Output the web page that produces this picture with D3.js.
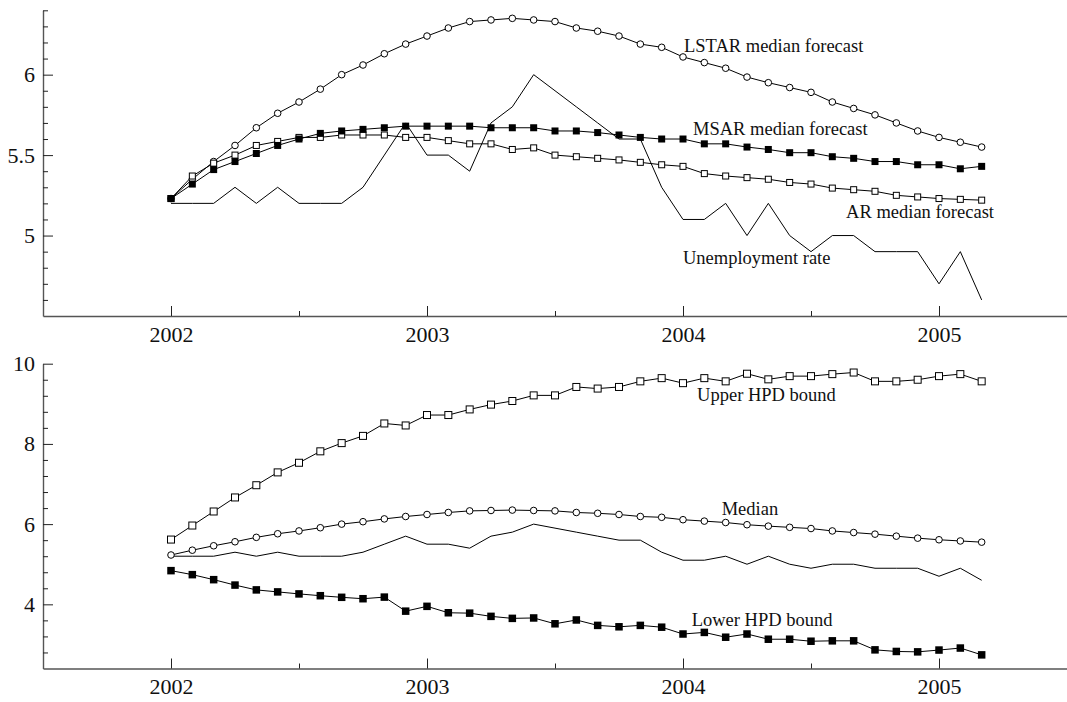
<!DOCTYPE html>
<html>
<head>
<meta charset="utf-8">
<script src="https://cdn.jsdelivr.net/npm/d3@7"></script>
<style>
  html, body { margin: 0; padding: 0; background: #fff; }
  svg { display: block; font-family: "Liberation Serif", "Times New Roman", serif; }
</style>
</head>
<body>
<svg id="chart" width="1067" height="702"></svg>
<script>
// Monthly observations, January 2002 to March 2005
const months = [
  "2002-01","2002-02","2002-03","2002-04","2002-05","2002-06","2002-07","2002-08","2002-09","2002-10","2002-11","2002-12",
  "2003-01","2003-02","2003-03","2003-04","2003-05","2003-06","2003-07","2003-08","2003-09","2003-10","2003-11","2003-12",
  "2004-01","2004-02","2004-03","2004-04","2004-05","2004-06","2004-07","2004-08","2004-09","2004-10","2004-11","2004-12",
  "2005-01","2005-02","2005-03"
];

const unemployment = [5.2,5.2,5.2,5.3,5.2,5.3,5.2,5.2,5.2,5.3,5.5,5.7,
  5.5,5.5,5.4,5.7,5.8,6.0,5.9,5.8,5.7,5.6,5.6,5.3,
  5.1,5.1,5.2,5.0,5.2,5.0,4.9,5.0,5.0,4.9,4.9,4.9,
  4.7,4.9,4.6];

const lstarMedian = [5.23,5.35,5.46,5.56,5.67,5.76,5.83,5.91,6.00,6.06,6.13,6.19,
  6.24,6.29,6.33,6.34,6.35,6.34,6.33,6.29,6.27,6.24,6.19,6.17,
  6.11,6.075,6.04,5.985,5.95,5.92,5.89,5.83,5.79,5.75,5.70,5.65,
  5.61,5.58,5.55];

const msarMedian = [5.23,5.32,5.41,5.46,5.51,5.56,5.60,5.635,5.65,5.66,5.67,5.68,
  5.68,5.68,5.68,5.67,5.67,5.67,5.65,5.65,5.64,5.625,5.61,5.60,
  5.60,5.57,5.57,5.55,5.535,5.515,5.515,5.49,5.48,5.46,5.46,5.44,
  5.44,5.415,5.43];

const arMedian = [5.23,5.37,5.45,5.50,5.56,5.585,5.61,5.61,5.625,5.625,5.625,5.61,
  5.61,5.59,5.57,5.57,5.535,5.545,5.50,5.49,5.48,5.47,5.455,5.44,
  5.43,5.385,5.37,5.36,5.35,5.33,5.32,5.295,5.285,5.275,5.25,5.24,
  5.23,5.225,5.22];

const upperHPD = [5.615,5.965,6.315,6.665,6.97,7.29,7.53,7.815,8.02,8.2,8.51,8.46,
  8.72,8.72,8.86,8.98,9.07,9.21,9.21,9.42,9.38,9.42,9.56,9.64,
  9.515,9.64,9.56,9.75,9.61,9.69,9.69,9.74,9.78,9.56,9.56,9.6,
  9.69,9.74,9.56];

const lowerHPD = [4.84,4.74,4.615,4.48,4.36,4.31,4.26,4.215,4.175,4.14,4.18,3.83,
  3.95,3.79,3.78,3.70,3.65,3.66,3.515,3.61,3.475,3.44,3.475,3.43,
  3.26,3.30,3.18,3.26,3.13,3.13,3.08,3.09,3.09,2.865,2.825,2.815,
  2.86,2.91,2.74];

const xTickYears = [2002, 2003, 2004, 2005];
const xMinorTicks = [2002.5, 2003.5, 2004.5];
const topYTicks = [5, 5.5, 6];
const topYMinor = [4.6,4.7,4.8,4.9,5.1,5.2,5.3,5.4,5.6,5.7,5.8,5.9,6.1,6.2,6.3,6.4];
const bottomYTicks = [4, 6, 8, 10];
const bottomYMinor = [2.8,3.2,3.6,4.4,4.8,5.2,5.6,6.4,6.8,7.2,7.6,8.4,8.8,9.2,9.6];

// decimal-year position of each month
const t = months.map(m => {
  const [yy, mm] = m.split("-").map(Number);
  return yy + (mm - 1) / 12;
});

const svg = d3.select("#chart");
const x = d3.scaleLinear().domain([2001.5, 2005.5]).range([43, 1067]);

function drawPanel(cfg) {
  const y = d3.scaleLinear().domain(cfg.domain).range([cfg.bottom, cfg.top]);
  const g = svg.append("g");

  // x axis: major ticks with labels, minor ticks without
  g.append("g").attr("transform", `translate(0,${cfg.bottom})`)
    .call(d3.axisBottom(x).tickValues(xTickYears).tickFormat(d3.format("d"))
      .tickSize(-10).tickSizeOuter(0).tickPadding(10));
  g.append("g").attr("transform", `translate(0,${cfg.bottom})`)
    .call(d3.axisBottom(x).tickValues(xMinorTicks).tickFormat("")
      .tickSize(-5).tickSizeOuter(0))
    .call(s => s.select(".domain").remove());

  // y axis
  g.append("g").attr("transform", `translate(43,0)`)
    .call(d3.axisLeft(y).tickValues(cfg.yTicks).tickFormat(d3.format("~g"))
      .tickSize(-10).tickSizeOuter(0).tickPadding(8));
  g.append("g").attr("transform", `translate(43,0)`)
    .call(d3.axisLeft(y).tickValues(cfg.yMinor).tickFormat("")
      .tickSize(-5).tickSizeOuter(0))
    .call(s => s.select(".domain").remove());

  g.selectAll(".domain").attr("stroke", "#555").attr("stroke-width", 1.4);
  g.selectAll(".tick line").attr("stroke", "#222").attr("stroke-width", 1);
  g.selectAll(".tick text").attr("font-family", "Liberation Serif, Times New Roman, serif")
    .attr("font-size", 22).attr("fill", "#111");

  const line = d3.line().x((d, i) => x(t[i])).y(d => y(d));

  cfg.series.forEach(s => {
    g.append("path").datum(s.values)
      .attr("fill", "none").attr("stroke", "#000").attr("stroke-width", 1)
      .attr("d", line);
  });

  // markers: circles first, then open squares, filled squares on top
  cfg.series.forEach(s => {
    if (!s.marker) return;
    const m = g.append("g").selectAll("*").data(s.values);
    if (s.marker === "circle") {
      m.join("circle")
        .attr("cx", (d, i) => x(t[i])).attr("cy", d => y(d)).attr("r", 3.3)
        .attr("fill", "#fff").attr("stroke", "#000").attr("stroke-width", 1);
    } else if (s.marker === "open") {
      const h = s.size / 2;
      m.join("rect")
        .attr("x", (d, i) => x(t[i]) - h).attr("y", d => y(d) - h)
        .attr("width", s.size).attr("height", s.size)
        .attr("fill", "#fff").attr("stroke", "#000").attr("stroke-width", 1);
    } else {
      const h = s.size / 2;
      m.join("rect")
        .attr("x", (d, i) => x(t[i]) - h).attr("y", d => y(d) - h)
        .attr("width", s.size).attr("height", s.size)
        .attr("fill", "#000");
    }
  });

  cfg.labels.forEach(l => {
    g.append("text").attr("x", x(l.at)).attr("y", y(l.v))
      .attr("font-size", 18.5).attr("fill", "#111").text(l.text);
  });
}

drawPanel({
  top: 10.3, bottom: 316, domain: [4.5, 6.4],
  yTicks: topYTicks, yMinor: topYMinor,
  series: [
    { values: unemployment },
    { values: lstarMedian, marker: "circle" },
    { values: arMedian, marker: "open", size: 6 },
    { values: msarMedian, marker: "filled", size: 7 }
  ],
  labels: [
    { text: "LSTAR median forecast", at: 2004.004, v: 6.141 },
    { text: "MSAR median forecast", at: 2004.039, v: 5.625 },
    { text: "AR median forecast", at: 2004.637, v: 5.112 },
    { text: "Unemployment rate", at: 2004.0, v: 4.824 }
  ]
});

drawPanel({
  top: 363.7, bottom: 668.5, domain: [2.4, 10],
  yTicks: bottomYTicks, yMinor: bottomYMinor,
  series: [
    { values: unemployment },
    { values: lstarMedian, marker: "circle" },
    { values: upperHPD, marker: "open", size: 7 },
    { values: lowerHPD, marker: "filled", size: 7.5 }
  ],
  labels: [
    { text: "Upper HPD bound", at: 2004.055, v: 9.058 },
    { text: "Median", at: 2004.151, v: 6.228 },
    { text: "Lower HPD bound", at: 2004.034, v: 3.47 }
  ]
});
</script>
</body>
</html>
